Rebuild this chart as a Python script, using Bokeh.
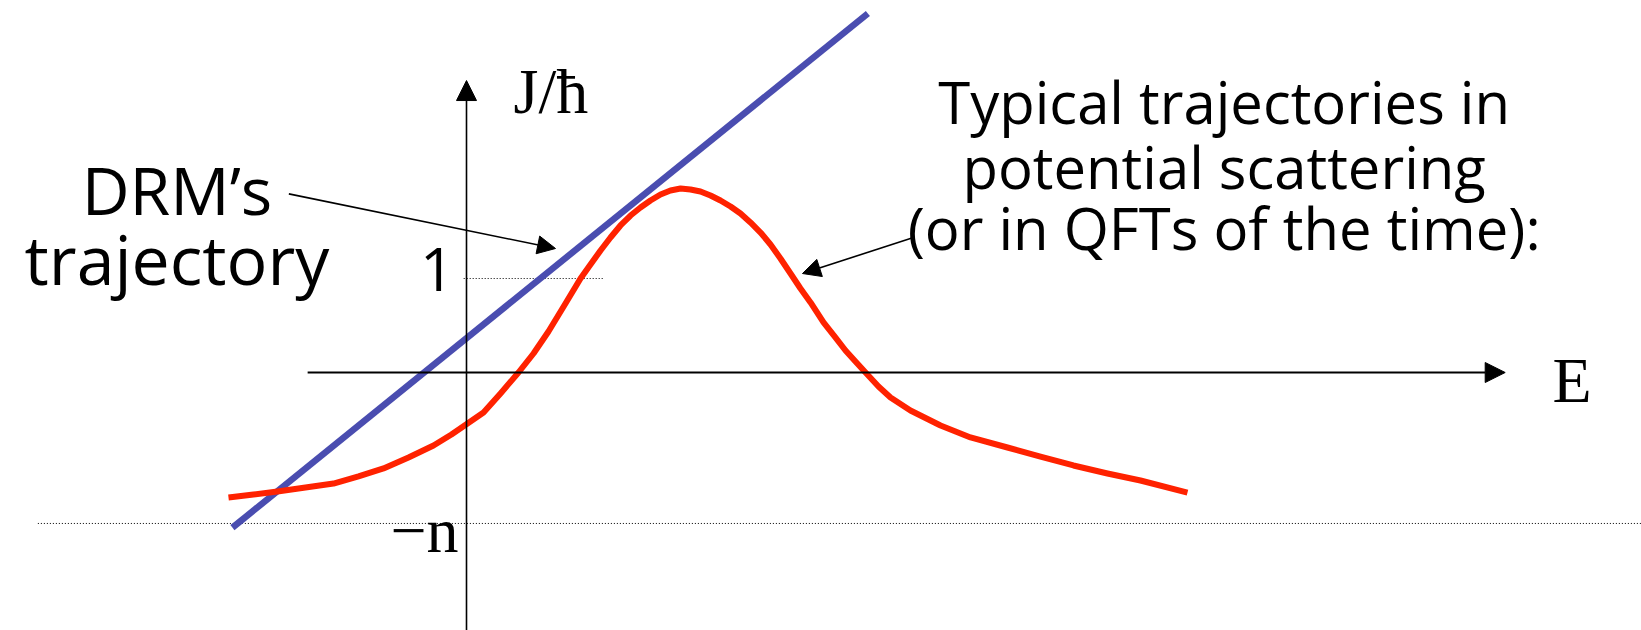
from bokeh.plotting import figure
from bokeh.models import Range1d, Arrow, NormalHead, Label
from bokeh.embed import file_html
from bokeh.resources import INLINE

# ---- data (E, J/hbar units) ----
red_E = [-2.532, -2.266, -2.011, -1.713, -1.415, -1.149, -0.883, -0.617, -0.351,
         -0.160, 0.011, 0.181, 0.362, 0.553, 0.713, 0.872, 1.053, 1.213, 1.319,
         1.426, 1.532, 1.638, 1.745, 1.851, 1.957, 2.064, 2.170, 2.277, 2.383,
         2.489, 2.596, 2.702, 2.809, 2.915, 3.021, 3.128, 3.234, 3.340, 3.447,
         3.553, 3.660, 3.798, 3.926, 4.032, 4.138, 4.245, 4.383, 4.511, 4.723,
         5.043, 5.362, 5.755, 6.106, 6.457, 6.819, 7.170, 7.670]
red_J = [-1.330, -1.298, -1.266, -1.223, -1.181, -1.106, -1.021, -0.904, -0.777,
         -0.660, -0.543, -0.426, -0.223, 0.000, 0.202, 0.436, 0.734, 1.000, 1.149,
         1.298, 1.436, 1.564, 1.670, 1.755, 1.830, 1.894, 1.936, 1.957, 1.947,
         1.926, 1.883, 1.830, 1.766, 1.691, 1.596, 1.489, 1.362, 1.213, 1.053,
         0.894, 0.745, 0.532, 0.372, 0.234, 0.117, 0.000, -0.149, -0.266, -0.404,
         -0.564, -0.691, -0.798, -0.894, -0.989, -1.074, -1.149, -1.277]
blue_E = [-2.49, 4.27]
blue_J = [-1.65, 3.82]
level_values = [1.0, -1.606]
tick_labels = ["1", "\u2212n"]
x_label = "E"
y_label = "J/\u0127"
drm_text = ["DRM\u2019s", "trajectory"]
typ_text = ["Typical trajectories in", "potential scattering", "(or in QFTs of the time):"]

U = 94.0
W, H = 1641, 630
x0 = -466 / U
y1 = 372 / U

p = figure(width=W, height=H, x_range=Range1d(x0, x0 + W / U),
           y_range=Range1d(y1 - H / U, y1), output_backend="svg",
           toolbar_location=None, x_axis_type=None, y_axis_type=None,
           min_border=0)
p.grid.visible = False
p.outline_line_color = None

# dotted level lines
p.line([-0.03, 1.47], [level_values[0]] * 2, line_color="black", line_width=1, line_dash="1 2")
p.line([-4.56, 12.6], [level_values[1]] * 2, line_color="black", line_width=1, line_dash="1 2")

# axes with arrows
p.add_layout(Arrow(end=NormalHead(size=20, fill_color="black", line_color="black"),
                   x_start=-1.69, y_start=0, x_end=11.05, y_end=0,
                   line_width=2, line_color="black"))
p.add_layout(Arrow(end=NormalHead(size=20, fill_color="black", line_color="black"),
                   x_start=0, y_start=-2.9, x_end=0, y_end=3.106,
                   line_width=1.6, line_color="black"))

# curves
p.line(blue_E, blue_J, line_color="#4a4db0", line_width=6.5)
p.line(red_E, red_J, line_color="#ff2200", line_width=6, line_join="round")

# pointer arrows
p.add_layout(Arrow(end=NormalHead(size=18, fill_color="black", line_color="black"),
                   x_start=-1.89, y_start=1.90, x_end=0.947, y_end=1.319,
                   line_width=1.6, line_color="black"))
p.add_layout(Arrow(end=NormalHead(size=18, fill_color="black", line_color="black"),
                   x_start=4.755, y_start=1.436, x_end=3.574, y_end=1.053,
                   line_width=1.6, line_color="black"))

serif = "Liberation Serif"
comic = "Open Sans"

p.add_layout(Label(x=0.50, y=2.989, text=y_label, text_font=serif, text_font_size="64px",
                   text_align="left", text_baseline="alphabetic", text_color="black"))
p.add_layout(Label(x=11.553, y=-0.085, text=x_label, text_font=serif, text_font_size="64px",
                   text_align="left", text_baseline="alphabetic", text_color="black"))
p.add_layout(Label(x=-0.085, y=-1.681, text=tick_labels[1], text_font=serif, text_font_size="64px",
                   text_align="right", text_baseline="alphabetic", text_color="black"))
p.add_layout(Label(x=-0.13, y=1.096, text=tick_labels[0], text_font=comic, text_font_size="60px",
                   text_align="right", text_baseline="alphabetic", text_color="black"))

for t, yy, fs in zip(drm_text, [1.947, 1.213], ["66px", "68px"]):
    p.add_layout(Label(x=-3.08, y=yy, text=t, text_font=comic, text_font_size=fs,
                       text_align="center", text_baseline="alphabetic", text_color="black"))
for t, yy in zip(typ_text, [2.883, 2.192, 1.543]):
    p.add_layout(Label(x=8.06, y=yy, text=t, text_font=comic, text_font_size="58px",
                       text_align="center", text_baseline="alphabetic", text_color="black"))

open("out.html", "w").write(file_html(p, INLINE))
